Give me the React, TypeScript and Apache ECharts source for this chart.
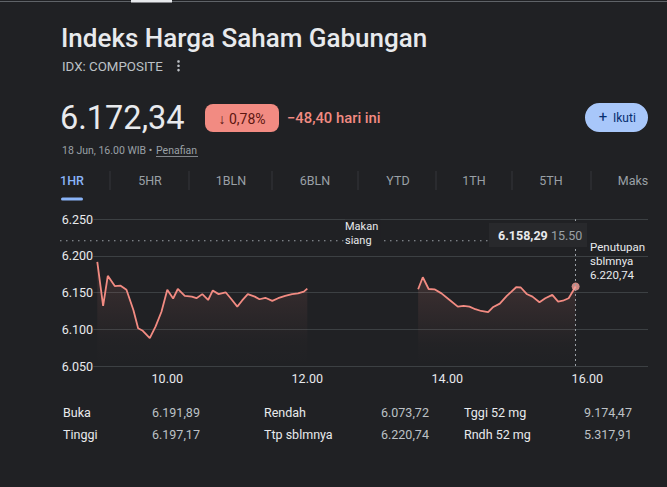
import React, { useEffect, useRef } from "react";
import * as echarts from "echarts";

const morningTimes = ["09:00","09:05","09:09","09:15","09:20","09:25","09:28","09:31","09:35","09:39","09:45","09:50","09:55","10:00","10:05","10:09","10:15","10:21","10:25","10:30","10:35","10:39","10:44","10:50","10:55","11:00","11:04","11:09","11:15","11:19","11:24","11:30","11:35","11:41","11:47","11:52","11:57","12:00"];
const morningValues = [6192,6132,6173,6159,6159.5,6154,6140,6126,6101.5,6098,6088,6104,6124,6154,6142,6155,6145.5,6144.6,6142.4,6148,6140,6153,6148,6150.5,6141,6131,6139,6148,6144.6,6141,6143,6138.7,6142.4,6145.5,6148,6149,6151.4,6155.5];
const afternoonTimes = ["13:35","13:39","13:44","13:49","13:55","14:02","14:09","14:14","14:19","14:24","14:29","14:35","14:39","14:45","14:51","14:55","14:59","15:03","15:08","15:13","15:19","15:24","15:30","15:35","15:39","15:44","15:50"];
const afternoonValues = [6154.6,6171,6155,6154.6,6149,6140,6131,6132,6131,6127.4,6125,6123.3,6130,6135,6145.5,6151.4,6157.4,6157,6148.2,6144.6,6137,6142.4,6146.9,6137.7,6139,6142.4,6158.29];
const xTickHours = [10, 12, 14, 16];
const prevClose = 6220.74;
const tabs = ["1HR", "5HR", "1BLN", "6BLN", "YTD", "1TH", "5TH", "Maks"];
const statsRows = [
  ["Buka", "6.191,89", "Rendah", "6.073,72", "Tggi 52 mg", "9.174,47"],
  ["Tinggi", "6.197,17", "Ttp sblmnya", "6.220,74", "Rndh 52 mg", "5.317,91"],
];

const BG = "#202124";
const RED = "#f28b82";
const FONT = "Roboto, 'Noto Sans', sans-serif";

const toHours = (t: string) => {
  const [h, m] = t.split(":").map(Number);
  return h + m / 60;
};
const fmtTick = (v: number) => {
  const s = String(Math.round(v));
  return s.slice(0, s.length - 3) + "." + s.slice(s.length - 3);
};
const fmtHour = (v: number) => `${Math.floor(v)}.00`;
const fmtPrice = (v: number) => v.toFixed(2).replace(".", ",").replace(/^(\d)(\d{3})/, "$1.$2");

export default function App() {
  const ref = useRef<HTMLDivElement>(null);
  useEffect(() => {
    const chart = echarts.init(ref.current!, null, { renderer: "svg" });
    const morning = morningTimes.map((t, i) => [toHours(t), morningValues[i]]);
    const afternoon = afternoonTimes.map((t, i) => [toHours(t), afternoonValues[i]]);
    const last = afternoon[afternoon.length - 1];
    const area = {
      color: new echarts.graphic.LinearGradient(0, 0, 0, 1, [
        { offset: 0, color: "rgba(242,139,130,0.20)" },
        { offset: 0.75, color: "rgba(242,139,130,0.02)" },
        { offset: 1, color: "rgba(242,139,130,0)" },
      ]),
    };
    const lineSeries = (data: number[][]) => ({
      type: "line",
      data,
      showSymbol: false,
      lineStyle: { color: RED, width: 1.8 },
      areaStyle: area,
      z: 3,
    });
    chart.setOption({
      animation: false,
      backgroundColor: BG,
      grid: { left: 93.3, top: 219.3, width: 554.7, height: 146.7, containLabel: false },
      xAxis: {
        type: "value",
        min: 8.943,
        max: 16.867,
        splitLine: { show: false },
        axisLine: { show: false },
        axisTick: { show: false },
        axisLabel: {
          customValues: xTickHours,
          formatter: (v: number) => fmtHour(v),
          color: "#e8eaed",
          fontSize: 12.5,
          fontFamily: FONT,
          margin: 6,
        },
      },
      yAxis: {
        type: "value",
        min: 6050,
        max: 6250,
        interval: 50,
        axisLine: { show: false },
        axisTick: { show: false },
        splitLine: { lineStyle: { color: "#3c4043", width: 1 } },
        axisLabel: {
          formatter: (v: number) => fmtTick(v),
          color: "#e8eaed",
          fontSize: 12.5,
          fontFamily: FONT,
          align: "left",
          margin: 31.6,
        },
      },
      series: [
        lineSeries(morning),
        {
          ...lineSeries(afternoon),
          markLine: {
            silent: true,
            symbol: "none",
            label: { show: false },
            lineStyle: { color: "#9aa0a6", type: [2, 3], width: 1 },
            data: [{ xAxis: last[0] }],
          },
        },
        {
          type: "scatter",
          data: [last],
          symbolSize: 8,
          itemStyle: { color: "#f6a29b" },
          z: 4,
        },
      ],
    });

    const py = chart.convertToPixel({ yAxisIndex: 0 }, prevClose) as number;
    const px = chart.convertToPixel({ xAxisIndex: 0 }, last[0]) as number;

    const txt = (text: string, x: number, y: number, size: number, fill: string, extra: any = {}) => ({
      type: "text",
      z: 10,
      style: {
        text,
        x,
        y,
        fill,
        font: `${extra.weight || "normal"} ${size}px ${FONT}`,
        textAlign: extra.align || "left",
        textVerticalAlign: "middle",
        ...(extra.style || {}),
      },
    });

    const tabXs = [72, 150, 231, 315, 398, 474, 551, 633];
    const sepXs = [110, 189, 272, 358, 436, 512, 591];
    const graphic: any[] = [
      { type: "rect", z: 10, shape: { x: 0, y: 1, width: 667, height: 1 }, style: { fill: "#5f6368" } },
      { type: "rect", z: 10, shape: { x: 131, y: 0, width: 41, height: 2.5 }, style: { fill: "#e8eaed" } },
      txt("Indeks Harga Saham Gabungan", 61, 38, 26, "#e8eaed", { weight: 500 }),
      txt("IDX: COMPOSITE", 62, 66, 13.3, "#bdc1c6"),
      { type: "circle", z: 10, shape: { cx: 178.5, cy: 61.5, r: 1.3 }, style: { fill: "#bdc1c6" } },
      { type: "circle", z: 10, shape: { cx: 178.5, cy: 65.8, r: 1.3 }, style: { fill: "#bdc1c6" } },
      { type: "circle", z: 10, shape: { cx: 178.5, cy: 70.1, r: 1.3 }, style: { fill: "#bdc1c6" } },
      txt("6.172,34", 60, 118, 32.5, "#e8eaed"),
      { type: "rect", z: 10, shape: { x: 205, y: 104, width: 74, height: 28, r: 8 }, style: { fill: RED } },
      txt("↓ 0,78%", 242, 118.5, 14, "#5c1610", { align: "center" }),
      txt("−48,40 hari ini", 287, 118, 14.8, RED, { weight: 500 }),
      txt("18 Jun, 16.00 WIB • ", 62, 150.5, 10.5, "#9aa0a6"),
      txt("Penafian", 156, 150.5, 10.5, "#9aa0a6"),
      { type: "line", z: 10, shape: { x1: 156, y1: 156.5, x2: 198, y2: 156.5 }, style: { stroke: "#9aa0a6", lineWidth: 0.8 } },
      { type: "rect", z: 10, shape: { x: 585, y: 103, width: 63, height: 29, r: 14.5 }, style: { fill: "#a8c7fa" } },
      txt("+", 603, 116.5, 15, "#062e6f", { align: "center" }),
      txt("Ikuti", 613, 117.5, 12, "#062e6f"),
      { type: "rect", z: 10, shape: { x: 61, y: 197.5, width: 22, height: 3, r: 1.5 }, style: { fill: "#8ab4f8" } },
      ...tabs.map((t, i) => txt(t, tabXs[i], 180, 12.5, i === 0 ? "#8ab4f8" : "#9aa0a6", { align: "center", weight: i === 0 ? 500 : "normal" })),
      ...sepXs.map((x) => ({ type: "line", z: 10, shape: { x1: x, y1: 171, x2: x, y2: 190 }, style: { stroke: "#35363a", lineWidth: 1 } })),
      { type: "line", z: 5, shape: { x1: 60, y1: py, x2: px, y2: py }, style: { stroke: "#9aa0a6", lineWidth: 1, lineDash: [1.5, 4.5] } },
      txt("Makan\nsiang", 345, py - 7, 11, "#e8eaed", { style: { lineHeight: 14, backgroundColor: BG, padding: [0, 2, 0, 0] } }),
      { type: "rect", z: 10, shape: { x: 489, y: 223, width: 98, height: 24 }, style: { fill: "#28292c" } },
      txt(fmtPrice(afternoonValues[afternoonValues.length - 1]), 498, 235, 12.5, "#e8eaed", { weight: "bold" }),
      txt(afternoonTimes[afternoonTimes.length - 1].replace(":", "."), 551, 235, 12.5, "#9aa0a6"),
      txt("Penutupan\nsblmnya\n" + fmtPrice(prevClose), 590, 261, 11.5, "#e8eaed", { style: { lineHeight: 14 } }),
    ];
    const colX = [63, 152, 264, 381, 464, 584];
    statsRows.forEach((row, r) => {
      row.forEach((cell, c) => {
        graphic.push(txt(cell, colX[c], 412 + r * 22, 12.5, c % 2 === 0 ? "#e8eaed" : "#bdc1c6"));
      });
    });
    chart.setOption({ graphic });
    return () => chart.dispose();
  }, []);
  return <div ref={ref} style={{ position: "fixed", left: 0, top: 0, width: 667, height: 487 }} />;
}
